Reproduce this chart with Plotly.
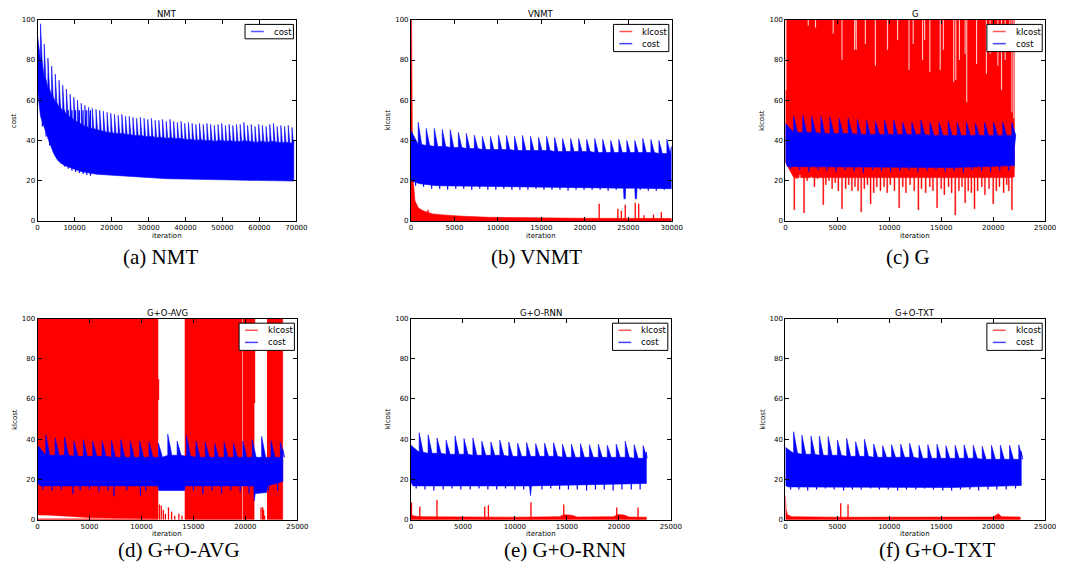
import plotly.graph_objects as go

W, H = 1070, 572
BLUE = '#0000ff'
RED = '#ff0000'

# ======================= DATA =======================
# ---- (a) NMT : cost ----
nmt_spike_iter = [800, 1800, 2800, 3800, 4800, 5800, 6800, 7800, 8800, 9800, 10800, 11800, 12800, 13800,
                  14800, 15800, 16800, 17800, 18800, 19800, 20800, 21800, 22800, 23800, 24800, 25800, 26800,
                  27800, 28800, 29800, 30800, 31800, 32800, 33800, 34800, 35800, 36800, 37800, 38800, 39800,
                  40800, 41800, 42800, 43800, 44800, 45800, 46800, 47800, 48800, 49800, 50800, 51800, 52800,
                  53800, 54800, 55800, 56800, 57800, 58800, 59800, 60800, 61800, 62800, 63800, 64800, 65800,
                  66800, 67800, 68800]
nmt_spike_top = [98, 88, 81, 77, 73, 70, 67.5, 65.5, 63, 61.5, 60, 58.5, 57.5, 56.5, 56, 55.5, 55, 54.5, 54,
                 53.5, 53, 52.5, 53, 52, 52, 51.5, 51, 51.5, 51, 50.5, 51, 50, 50, 50.5, 49.5, 50.5, 49.5, 49,
                 49.5, 48.5, 49, 48.5, 48, 48.5, 48, 48.5, 48, 47.5, 48, 48.5, 47.5, 48, 47.5, 48, 48, 49, 47.5,
                 48, 47, 48, 47.5, 47, 48, 48.5, 47, 47.5, 47, 47.5, 46.5]
nmt_spike_base = [80, 71, 66, 62, 59, 56.5, 54.5, 53, 51.5, 50, 49, 48, 47, 46.5, 46, 45.5, 45, 44.5, 44, 44,
                  43.5, 43.5, 43.5, 43, 43, 42.5, 42.5, 42.5, 42, 42, 42, 41.5, 41.5, 41.5, 41, 41.5, 41, 41, 41,
                  40.5, 40.5, 40.5, 40, 40.5, 40, 40, 40, 39.5, 40, 40, 39.5, 40, 39.5, 39.5, 39.5, 40, 39.5,
                  39.5, 39, 39.5, 39.5, 39, 39.5, 39.5, 39, 39, 39, 39, 38.5]
nmt_ends_iter = [0, 69300]
nmt_ends_top = [92, 40]
nmt_low_iter = [0, 300, 800, 1500, 2000, 3000, 3700, 4500, 5500, 6500, 7300, 8500, 10000, 12000, 14000,
                16000, 20000, 25000, 30000, 35000, 40000, 50000, 60000, 69300]
nmt_low_val = [68, 60, 52, 48, 45.5, 40, 36.5, 33, 30, 28.5, 27.5, 26.5, 25.7, 24.5, 23.8, 23.2, 22.5, 22,
               21.5, 21, 20.8, 20.3, 20, 19.8]
nmt_dip_iter = [1300, 2300, 3300, 4300, 5300, 6300, 7300, 8300, 9300, 10300, 11300, 12300, 13300, 14300]
nmt_dip_val = [47, 42, 37.5, 34, 31, 28.5, 27, 26, 25, 24.3, 23.8, 23.3, 22.8, 22.5]

# ---- (b) VNMT ----
vn_spike_iter = [830, 1750, 2680, 3600, 4520, 5450, 6370, 7290, 8210, 9140, 10060, 10980, 11910, 12830,
                 13750, 14680, 15600, 16520, 17440, 18370, 19290, 20210, 21140, 22060, 22980, 23910, 24830,
                 25750, 26670, 27600, 28520, 29440]
vn_spike_top = [49, 46, 46, 45.5, 45.3, 44, 43.5, 42.6, 42, 42, 42.6, 42.5, 42, 42.5, 42, 41.5, 42, 41.5, 41,
                41, 41, 40.5, 41, 40.5, 40, 40.5, 40, 40, 41, 40.5, 40, 40.5]
vn_spike_base = [38, 37.5, 37, 37, 36.5, 36.5, 36, 36, 35.5, 35.5, 35.5, 35.5, 35, 35, 35, 35, 35, 34.5,
                 34.5, 34.5, 34.5, 34.5, 34, 34, 34, 34, 34, 34, 34, 34, 33.5, 33.5]
vn_ends_iter = [0, 29950]
vn_ends_top = [45, 37]
vn_low_iter = [0, 200, 1000, 3000, 6000, 12000, 20000, 24450, 24500, 24650, 24700, 25750, 25800, 25950,
               26000, 29950]
vn_low_val = [20, 19.5, 18.5, 17.5, 17, 16.8, 16.5, 16.3, 11, 11, 16.3, 16.3, 11, 11, 16.3, 16]
vn_dip_iter = [530, 1450, 2380, 3300, 4220, 5150, 6070, 6990, 7910, 8840, 9760, 10680, 11610, 12530, 13450,
               14380, 15300, 16220, 17140, 18070, 18990, 19910, 20840, 21760, 22680, 23610, 26370, 27300,
               28220, 29140]
vn_dip_val = [17.5, 17, 16, 16, 15.5, 16, 16, 15.5, 16, 15.5, 15.5, 16, 15.5, 15.5, 15.5, 16, 15.5, 15.5,
              15.5, 15, 15.5, 15.5, 15.5, 15.5, 15, 15.5, 15.5, 15, 15, 15.5]
vn_kl_iter = [0, 60, 150, 265, 455, 835, 1400, 2500, 3700, 6000, 9000, 14000, 20000, 29950]
vn_kl_val = [105, 105, 47, 20, 10, 6.5, 5, 3.5, 3, 2.3, 1.8, 1.5, 1.3, 1.2]
vn_kl_spike_iter = [1970, 21650, 23800, 24200, 24650, 25800, 26200, 26800, 27900, 28800]
vn_kl_spike_top = [5.5, 8.5, 6, 5, 8, 9, 8.5, 2.8, 3.2, 4.5]

# ---- (c) G ----
g_spike_iter = [790, 1670, 2540, 3420, 4290, 5170, 6040, 6920, 7790, 8670, 9540, 10420, 11290, 12170, 13040,
                13920, 14790, 15670, 16540, 17420, 18290, 19170, 20040, 20920, 21790]
g_spike_top = [52, 52.5, 52, 52, 51.5, 51, 51, 50.5, 50, 49.5, 50, 50, 49, 49, 50, 49, 49, 49.5, 49, 49, 48.5,
               49, 49, 49, 49]
g_spike_base = [44, 44, 44, 43.5, 43.5, 43.5, 43.5, 43, 43, 43, 43, 43, 43, 43, 43, 42.5, 42.5, 42.5, 42.5,
                42.5, 42.5, 42.5, 42.5, 42.5, 42.5]
g_ends_iter = [0, 22050]
g_ends_top = [48.5, 37]
g_low_iter = [0, 200, 3000, 10000, 16000, 22050]
g_low_val = [30, 27, 27, 26.8, 26.5, 27.5]
g_dip_iter = [500, 1380, 2250, 3130, 4000, 4880, 5750, 6630, 7500, 8380, 9250, 10130, 11000, 11880, 12750,
              13630, 14500, 15380, 16250, 17130, 18000, 18880, 19750, 20630, 21500]
g_dip_val = [26, 25.5, 24.5, 25.5, 25, 24.5, 25.5, 25, 24, 25.5, 25, 24.5, 25, 25.5, 24.5, 25, 25.5, 24.5, 25,
             24, 25.5, 25, 24.5, 25, 25]
g_kl_ends_iter = [0, 22050]
g_kl_ends_low = [29, 22]
g_kl_low_base = 21.5
g_kl_gap_iter = [60, 2200, 2900, 4600, 5450, 6660, 6820, 7700, 8660, 9830, 10800, 11900, 12300, 13200, 13400,
                 13900, 14900, 15200, 16200, 16400, 16750, 17300, 17450, 18400, 19350, 19700, 20450, 20800,
                 21150, 21600, 21800, 21980]
g_kl_gap_val = [65, 97, 96, 93, 80, 85, 85, 88, 77, 85, 90, 75, 88, 80, 90, 74, 75, 85, 69, 70, 80, 83, 59, 78,
                73, 83, 77, 65, 80, 84, 54, 51]
g_kl_dip_iter = [860, 1100, 1400, 1800, 2100, 2500, 2800, 3100, 3650, 3900, 4200, 4500, 4800, 5100, 5450, 5800,
                 6100, 6400, 6700, 7000, 7300, 7600, 7900, 8200, 8500, 8800, 9150, 9500, 9800, 10100, 10500,
                 10950, 11300, 11600, 12000, 12400, 12800, 13100, 13500, 13900, 14200, 14600, 15000, 15300,
                 15700, 16000, 16350, 16700, 17000, 17300, 17600, 17900, 18200, 18500, 18900, 19200, 19600,
                 20000, 20300, 20600, 21000, 21300, 21500, 21800]
g_kl_dip_val = [5.5, 21, 23, 4, 20, 22, 17, 21, 8, 18, 20, 16, 19, 15, 6, 16, 18, 15, 17, 15, 4.5, 16, 18, 8.5,
                14, 17, 15, 17, 14, 18, 15, 6.5, 17, 14, 18, 15, 5.5, 16, 14, 17, 15, 6.5, 16, 13, 17, 14, 3,
                15, 17, 9, 15, 14, 6, 15, 17, 13, 16, 8.5, 15, 17, 14, 18, 15, 5.5]

# ---- (d) G+O-AVG ----
avg_spike_iter = [790, 1690, 2600, 3500, 4400, 5310, 6210, 7110, 8010, 8920, 9820, 10720, 11630, 12530, 13430,
                  14330, 15240, 16140, 17040, 17950, 18850, 19750, 20650, 21560, 22460, 23360]
avg_spike_top = [42.2, 40.6, 41, 39, 39.8, 39, 39, 39.3, 39.8, 39, 39, 38.6, 38, 42.5, 39, 41.9, 39, 38.6, 37.8,
                 38.5, 38, 39, 39.8, 41.4, 39.3, 38.6]
avg_spike_base = [32, 32, 32, 31.5, 31.5, 31.5, 31.5, 31, 31, 31, 31, 31, 31, 32, 32, 31.5, 31, 31, 31, 31, 31,
                  31, 31, 31, 31, 31]
avg_ends_iter = [0, 23600]
avg_ends_top = [37, 35]
avg_low_iter = [0, 300, 11600, 11650, 14150, 14200, 20800, 20850, 20950, 22050, 22100, 23600]
avg_low_val = [18, 16.8, 16.8, 14.5, 14.5, 16.8, 16.8, 9.5, 13, 13.5, 16.8, 19]
avg_dip_iter = [500, 1400, 2300, 3400, 4100, 5000, 5900, 6800, 7350, 8600, 9900, 10400, 15000, 15900, 16800,
                17700, 18600, 19500, 20350, 22200, 23100]
avg_dip_val = [15, 14.5, 15, 12.8, 14.5, 15, 14, 14.5, 11.6, 14.5, 12, 14.5, 14.5, 12.8, 14.5, 13, 14.5, 14,
               13, 14.5, 14.5]
avg_kl_block_start = [0, 14160, 19740, 22080]
avg_kl_block_end = [11600, 19680, 20850, 23600]
avg_kl_b1_low_iter = [0, 1000, 2000, 3500, 5000, 7000, 8600, 11600]
avg_kl_b1_low_val = [2.3, 2.2, 1.8, 1.5, 1.0, 0.8, 0.6, 0.5]
avg_kl_floor = 0.5
avg_kl_seg_iter = [11640, 20880, 11720, 11900, 12100, 12300, 12600, 12900, 13200, 13600, 13900, 21500, 21650,
                   21750, 21850]
avg_kl_seg_lo = [59.5, 58, 0, 0, 0, 0, 0, 0, 0, 0, 0, 0, 0, 0, 0]
avg_kl_seg_hi = [70, 100, 7.5, 7, 5, 3, 6, 4, 2, 3, 2, 6, 6.2, 5, 2]

# ---- (e) G+O-RNN ----
rnn_spike_iter = [790, 1650, 2510, 3380, 4240, 5100, 5960, 6820, 7690, 8550, 9410, 10270, 11130, 12000, 12860,
                  13720, 14580, 15440, 16310, 17170, 18030, 18890, 19750, 20620, 21480, 22340]
rnn_spike_top = [43.2, 42.2, 40.6, 39.5, 41.7, 40.3, 40.6, 39, 38.6, 39.5, 38.6, 38, 38.3, 37.8, 38, 38.3, 37.5,
                 37.5, 37.8, 37.3, 37.5, 37, 37.5, 39, 37.3, 36.8]
rnn_spike_base = [33.5, 33, 33, 32.5, 32.5, 32.5, 32, 32, 32, 32, 31.5, 31.5, 31.5, 31.5, 31.5, 31.5, 31, 31,
                  31, 31, 31, 31, 31, 31, 30.5, 30.5]
rnn_ends_iter = [0, 22650]
rnn_ends_top = [37, 33.7]
rnn_low_iter = [0, 200, 11400, 11500, 11600, 22650]
rnn_low_val = [18.5, 16.8, 16.8, 12, 16.8, 18]
rnn_dip_iter = [500, 1350, 2200, 3100, 3950, 4800, 5700, 6550, 7400, 8250, 9100, 10000, 10850, 12600, 13450,
                14300, 15150, 16000, 16900, 17750, 18600, 19450, 20300, 21200, 22050]
rnn_dip_val = [15.5, 15, 14.5, 15, 15.5, 15, 15, 15.5, 15, 15, 15.5, 15, 15, 15, 15.5, 15, 15, 15, 14.5, 15, 15,
               14.5, 15, 15, 15]
rnn_kl_iter = [0, 300, 1000, 5000, 10000, 14300, 14700, 15500, 16000, 19500, 19900, 20500, 21000, 22650]
rnn_kl_val = [2.5, 1.8, 1.5, 1.3, 1.2, 1.5, 2.5, 2.2, 1.3, 1.5, 2.6, 2.3, 1.3, 1.2]
rnn_kl_spike_iter = [50, 850, 2500, 7100, 7450, 11550, 14700, 19800, 21850]
rnn_kl_spike_top = [8.5, 6.5, 9.8, 6.5, 7.2, 8.7, 7.5, 6, 6]

# ---- (f) G+O-TXT ----
txt_spike_iter = [790, 1590, 2470, 3270, 4120, 5010, 5900, 6760, 7610, 8500, 9360, 10220, 11100, 11960, 12850,
                  13710, 14590, 15450, 16340, 17200, 18080, 18940, 19830, 20690, 21570, 22460]
txt_spike_top = [43.7, 42, 41.6, 41.6, 41.3, 39.6, 40.4, 38.8, 40, 37.6, 36.8, 37.3, 37.5, 38, 37, 37.3, 37.5,
                 36.8, 37, 37.2, 37, 36.5, 37, 37, 37, 37.2]
txt_spike_base = [33, 32.5, 32.5, 32, 32, 32, 31.5, 31.5, 31.5, 31, 31, 31, 31, 31, 30.5, 30.5, 30.5, 30.5,
                  30.5, 30.5, 30.5, 30, 30, 30, 30, 30]
txt_ends_iter = [0, 22700]
txt_ends_top = [36, 34]
txt_low_iter = [0, 300, 16000, 22700]
txt_low_val = [17, 16.3, 16, 17]
txt_dip_iter = [500, 1300, 2150, 3000, 3850, 4700, 5600, 6450, 7300, 8200, 9050, 9900, 10800, 11650, 12550,
                13400, 14250, 15150, 16000, 16850, 17750, 18600, 19500, 20350, 21250, 22150]
txt_dip_val = [15, 15, 14.5, 15, 15.5, 15, 14.5, 15, 15, 15.5, 15, 15, 14.5, 15, 15, 15.5, 15, 14.5, 14.5,
               15, 15, 14.5, 15, 15, 15, 15.5]
txt_kl_iter = [0, 80, 200, 600, 5000, 20000, 20500, 20800, 22600]
txt_kl_val = [12, 5, 2.5, 1.5, 1.2, 1.3, 3, 1.5, 1.3]
txt_kl_spike_iter = [5330, 6030]
txt_kl_spike_top = [8.2, 7.5]

titles = ['NMT', 'VNMT', 'G', 'G+O-AVG', 'G+O-RNN', 'G+O-TXT']
captions = ['(a) NMT', '(b) VNMT', '(c) G', '(d) G+O-AVG', '(e) G+O-RNN', '(f) G+O-TXT']
ylabels = ['cost', 'klcost', 'klcost', 'klcost', 'klcost', 'klcost']
xmax = [70000, 30000, 25000, 25000, 25000, 25000]
xstep = [10000, 5000, 5000, 5000, 5000, 5000]
yticks = [0, 20, 40, 60, 80, 100]

# ======================= LAYOUT (pixels) =======================
boxes = [(36, 298, 16, 220), (414, 678, 16, 220), (793, 1056, 16, 220),
         (36, 299, 319, 523), (414, 677, 319, 523), (793, 1056, 319, 523)]
caption_pos = [(160, 257), (541, 257), (917, 257), (179, 554), (570, 554), (946, 554)]


def fx(p):
    return p / W


def fy(p):
    return 1 - p / H


fig = go.Figure()


def ax_names(i):
    n = '' if i == 0 else str(i + 1)
    return 'x' + n, 'y' + n


def polygon(i, xs, ys, color, lw=0.6):
    xa, ya = ax_names(i)
    fig.add_trace(go.Scatter(x=xs, y=ys, mode='lines', fill='toself', fillcolor=color,
                             line=dict(color=color, width=lw), hoverinfo='skip', showlegend=False,
                             xaxis=xa, yaxis=ya))


def vlines(i, xs, los, his, color, lw=1.3):
    xa, ya = ax_names(i)
    px, py = [], []
    for x, lo, hi in zip(xs, los, his):
        px += [x, x, None]
        py += [lo, hi, None]
    fig.add_trace(go.Scatter(x=px, y=py, mode='lines', line=dict(color=color, width=lw),
                             hoverinfo='skip', showlegend=False, xaxis=xa, yaxis=ya))


def toothed_band(i, ends_x, ends_top, sx, stop, sbase, low_x, low_y, fall, color, dip_x=(), dip_v=(),
                 inner=25):
    ux = [ends_x[0]]
    uy = [ends_top[0]]
    for x, t, b in zip(sx, stop, sbase):
        ux += [x, x, x + fall]
        uy += [b, t, b]
    ux.append(ends_x[1])
    uy.append(ends_top[1])
    polygon(i, ux + list(reversed(low_x)), uy + list(reversed(low_y)), color)
    if len(dip_x):
        vlines(i, dip_x, dip_v, [inner] * len(dip_x), color, lw=1.2)


# (a)
toothed_band(0, nmt_ends_iter, nmt_ends_top, nmt_spike_iter, nmt_spike_top, nmt_spike_base,
             nmt_low_iter, nmt_low_val, 420, BLUE, nmt_dip_iter, nmt_dip_val, 55)

# (b)
polygon(1, vn_kl_iter + [vn_kl_iter[-1], 0], vn_kl_val + [0, 0], RED)
vlines(1, vn_kl_spike_iter, [0] * len(vn_kl_spike_iter), vn_kl_spike_top, RED)
toothed_band(1, vn_ends_iter, vn_ends_top, vn_spike_iter, vn_spike_top, vn_spike_base,
             vn_low_iter, vn_low_val, 400, BLUE, vn_dip_iter, vn_dip_val, 25)

# (c) klcost: band top at >100 with white notches, bottom with downward notches
hw = 55
top_x, top_y = [g_kl_ends_iter[0]], [105]
for x, v in zip(g_kl_gap_iter, g_kl_gap_val):
    top_x += [x - hw, x - hw, x + hw, x + hw]
    top_y += [105, v, v, 105]
top_x.append(g_kl_ends_iter[1])
top_y.append(105)
low_x, low_y = [g_kl_ends_iter[0]], [g_kl_ends_low[0]]
for x, v in zip(g_kl_dip_iter, g_kl_dip_val):
    low_x += [x - hw, x - hw, x + hw, x + hw]
    low_y += [g_kl_low_base, v, v, g_kl_low_base]
low_x.append(g_kl_ends_iter[1])
low_y.append(g_kl_ends_low[1])
polygon(2, top_x + list(reversed(low_x)), top_y + list(reversed(low_y)), RED, lw=0.3)
toothed_band(2, g_ends_iter, g_ends_top, g_spike_iter, g_spike_top, g_spike_base,
             g_low_iter, g_low_val, 380, BLUE, g_dip_iter, g_dip_val, 32)

# (d)
for k, (s, e) in enumerate(zip(avg_kl_block_start, avg_kl_block_end)):
    if k == 0:
        polygon(3, [s] + avg_kl_b1_low_iter + [e, s], [105] + avg_kl_b1_low_val + [105, 105], RED, lw=0.3)
        polygon(3, [s, e, e, s], [0, 0, avg_kl_floor, avg_kl_floor], RED, lw=0.3)
    else:
        polygon(3, [s, e, e, s], [0, 0, 105, 105], RED, lw=0.3)
vlines(3, avg_kl_seg_iter, avg_kl_seg_lo, avg_kl_seg_hi, RED)
toothed_band(3, avg_ends_iter, avg_ends_top, avg_spike_iter, avg_spike_top, avg_spike_base,
             avg_low_iter, avg_low_val, 390, BLUE, avg_dip_iter, avg_dip_val, 22)

# (e)
polygon(4, rnn_kl_iter + [rnn_kl_iter[-1], 0], rnn_kl_val + [0, 0], RED)
vlines(4, rnn_kl_spike_iter, [0] * len(rnn_kl_spike_iter), rnn_kl_spike_top, RED)
toothed_band(4, rnn_ends_iter, rnn_ends_top, rnn_spike_iter, rnn_spike_top, rnn_spike_base,
             rnn_low_iter, rnn_low_val, 380, BLUE, rnn_dip_iter, rnn_dip_val, 22)

# (f)
polygon(5, txt_kl_iter + [txt_kl_iter[-1], 0], txt_kl_val + [0, 0], RED)
vlines(5, txt_kl_spike_iter, [0] * len(txt_kl_spike_iter), txt_kl_spike_top, RED)
toothed_band(5, txt_ends_iter, txt_ends_top, txt_spike_iter, txt_spike_top, txt_spike_base,
             txt_low_iter, txt_low_val, 380, BLUE, txt_dip_iter, txt_dip_val, 22)

# ======================= axes, labels, legends =======================
layout = dict(width=W, height=H, margin=dict(l=0, r=0, t=0, b=0), paper_bgcolor='white',
              plot_bgcolor='white', showlegend=False)
tickfont = dict(family='DejaVu Sans', size=7, color='black')
annotations = []
shapes = []
for i, (l, r, t, b) in enumerate(boxes):
    n = '' if i == 0 else str(i + 1)
    xt = list(range(0, xmax[i] + 1, xstep[i]))
    layout['xaxis' + n] = dict(domain=[fx(l), fx(r)], range=[0, xmax[i]], anchor='y' + n,
                               tickvals=xt, ticktext=[str(v) for v in xt], ticks='inside', ticklen=4,
                               tickcolor='black', mirror='ticks', showline=True, linecolor='black',
                               linewidth=1, showgrid=False, zeroline=False, tickfont=tickfont)
    layout['yaxis' + n] = dict(domain=[fy(b), fy(t)], range=[0, 100], anchor='x' + n,
                               tickvals=yticks, ticktext=[str(v) for v in yticks], ticks='inside',
                               ticklen=4, tickcolor='black', mirror='ticks', showline=True,
                               linecolor='black', linewidth=1, showgrid=False, zeroline=False,
                               tickfont=tickfont)
    cx = (l + r) / 2
    annotations.append(dict(text=titles[i], x=fx(cx), y=fy(t - 5.5), xref='paper', yref='paper',
                            showarrow=False, xanchor='center', yanchor='middle',
                            font=dict(family='DejaVu Sans', size=8.5, color='black')))
    annotations.append(dict(text='iteration', x=fx(cx), y=fy(b + 15), xref='paper', yref='paper',
                            showarrow=False, xanchor='center', yanchor='middle',
                            font=dict(family='DejaVu Sans', size=7, color='black')))
    annotations.append(dict(text=ylabels[i], x=fx(l - 23), y=fy((t + b) / 2), xref='paper', yref='paper',
                            showarrow=False, xanchor='center', yanchor='middle', textangle=-90,
                            font=dict(family='DejaVu Sans', size=7, color='black')))
    cpx, cpy = caption_pos[i]
    annotations.append(dict(text=captions[i], x=fx(cpx), y=fy(cpy), xref='paper', yref='paper',
                            showarrow=False, xanchor='center', yanchor='middle',
                            font=dict(family='Liberation Serif', size=21, color='black')))
    # legend box
    items = [('cost', '#5555ff')] if i == 0 else [('klcost', '#ff5555'), ('cost', '#4444ff')]
    bw = 49 if i == 0 else 56
    bh = 14.6 if i == 0 else 27.6
    br = r - 3
    bl = br - bw
    bt = t + 4.7
    shapes.append(dict(type='rect', xref='paper', yref='paper', x0=fx(bl), x1=fx(br), y0=fy(bt),
                       y1=fy(bt + bh), line=dict(color='black', width=1), fillcolor='white', layer='above'))
    for k, (name, col) in enumerate(items):
        yy = bt + 7.2 + 12.3 * k
        shapes.append(dict(type='line', xref='paper', yref='paper', x0=fx(bl + 6), x1=fx(bl + 19),
                           y0=fy(yy), y1=fy(yy), line=dict(color=col, width=1.5), layer='above'))
        annotations.append(dict(text=name, x=fx(bl + 27), y=fy(yy), xref='paper', yref='paper',
                                showarrow=False, xanchor='left', yanchor='middle',
                                font=dict(family='DejaVu Sans', size=8.5, color='black')))

layout['annotations'] = annotations
layout['shapes'] = shapes
fig.update_layout(**layout)
fig.write_html('out.html', config={'displayModeBar': False},
               post_script="document.body.style.margin='0';document.body.style.padding='0';")
